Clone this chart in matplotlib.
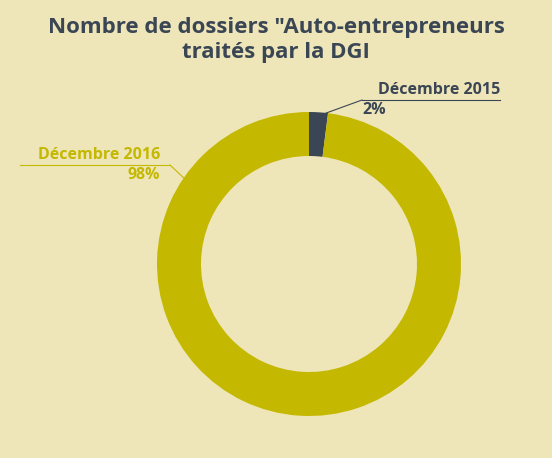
import matplotlib.pyplot as plt

labels = ["Décembre 2015", "Décembre 2016"]
values = [2, 98]
pct_labels = ["2%", "98%"]
colors = ["#3B4655", "#C4B800"]
bg = "#EEE6B8"

fig = plt.figure(figsize=(5.52, 4.58), dpi=100, facecolor=bg)
ax = fig.add_axes([0, 0, 1, 1])
ax.set_facecolor(bg)
H = 458

ax.pie(values, colors=colors, startangle=90, counterclock=False,
       center=(309, H - 264), radius=152,
       wedgeprops=dict(width=44, edgecolor="none"), frame=True)
ax.set_xlim(0, 552)
ax.set_ylim(0, 458)
ax.set_aspect("equal")
ax.axis("off")

ax.text(276, H - 40, 'Nombre de dossiers "Auto-entrepreneurs\ntraités par la DGI',
        ha="center", va="center", fontsize=16, fontweight="bold",
        color="#3B4655", linespacing=1.2, family="Open Sans")

fs = 11.5
ax.text(500, H - 98, labels[0], ha="right", va="bottom", fontsize=fs,
        fontweight="bold", color=colors[0], family="Open Sans")
ax.text(362, H - 102, pct_labels[0], ha="left", va="top", fontsize=fs,
        fontweight="bold", color=colors[0], family="Open Sans")
ax.plot([362, 500], [H - 100, H - 100], color=colors[0], lw=0.8)
ax.plot([318, 362], [H - 116, H - 100], color=colors[0], lw=0.8)

ax.text(160, H - 163, labels[1], ha="right", va="bottom", fontsize=fs,
        fontweight="bold", color=colors[1], family="Open Sans")
ax.text(160, H - 167, pct_labels[1], ha="right", va="top", fontsize=fs,
        fontweight="bold", color=colors[1], family="Open Sans")
ax.plot([20, 170], [H - 165, H - 165], color=colors[1], lw=0.8)
ax.plot([170, 186], [H - 165, H - 180], color=colors[1], lw=0.8)

fig.savefig("out.png", dpi=100, facecolor=bg)
